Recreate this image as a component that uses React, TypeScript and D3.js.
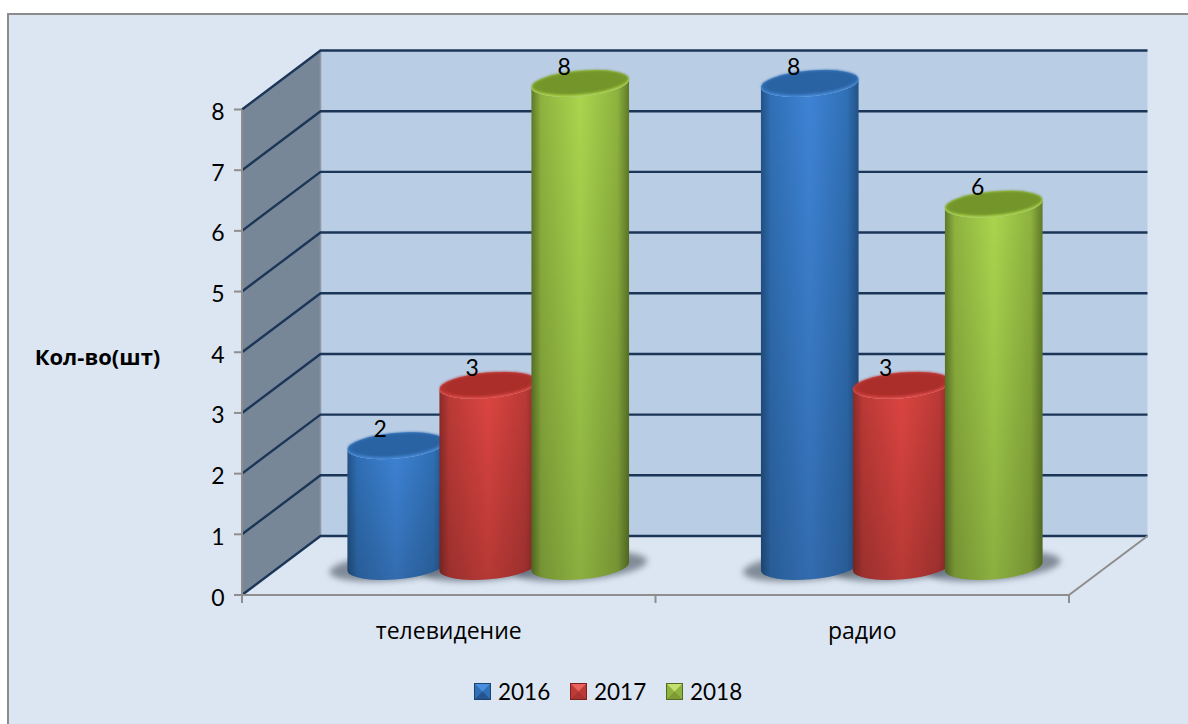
import React from "react";
import * as d3 from "d3";

// Chart values
const categories = ["телевидение", "радио"];
const years = ["2016", "2017", "2018"];
const values2016 = [2, 8];
const values2017 = [3, 3];
const values2018 = [8, 6];
const seriesValues = [values2016, values2017, values2018];
const yTicks = [0, 1, 2, 3, 4, 5, 6, 7, 8];

const palettes = [
  { id: "b", edge: "#235287", mid: "#3070b6", bright: "#3e84d6", cap: "#2a63a3", capEdge: "#2f6eb4", rim: "#4689d6", hi: "#4a8fdf", lo: "#24548c", dark: "#1d4372" },
  { id: "r", edge: "#8a2b29", mid: "#bc3a37", bright: "#de4541", cap: "#ab2f2c", capEdge: "#bb3633", rim: "#e04a46", hi: "#e8615d", lo: "#a83431", dark: "#7c2120" },
  { id: "g", edge: "#5f7a28", mid: "#8fb33f", bright: "#aad64e", cap: "#739529", capEdge: "#7fa232", rim: "#add54d", hi: "#c4e070", lo: "#7d9a34", dark: "#556b24" },
];

const WIDTH = 1188;
const HEIGHT = 724;
const DIGITS = "Lato, 'Open Sans', sans-serif";
const WORDS = "'Open Sans', sans-serif";
const GRID = "#1c3658";
const AXIS = "#8e8e8e";
const RX = 49;
const RY = 12.8;
const TILT = -5;

// Wall, floor and axis geometry of the 3-D box
const frontX = d3.scaleLinear().domain([0, 1]).range([242, 1069]);
const depth = { dx: 78.5, dy: -59 };
const yFront = d3.scaleLinear().domain([0, 8]).range([595, 109.5]);
const yBar = d3.scaleLinear().domain([0, 8]).range([566.5, 83.5]);
const groupX = d3.scaleBand<string>().domain(categories).range([281.5, 1108.5]);
const seriesX = d3.scalePoint<string>().domain(years).range([-92, 92]);
const labelX = d3.scaleBand<string>().domain(categories).range([242, 1069]);

const tiltRad = (TILT * Math.PI) / 180;
const endX = RX * Math.cos(tiltRad);
const endY = RX * Math.sin(tiltRad);

const barCenter = (c: string, y: string) =>
  (groupX(c) as number) + groupX.bandwidth() / 2 + (seriesX(y) as number);

function bodyPath(cx: number, top: number, bottom: number) {
  const p = d3.path();
  p.moveTo(cx - endX, top - endY);
  p.lineTo(cx - endX, bottom - endY);
  return (
    p.toString() +
    `A${RX} ${RY} ${TILT} 0 0 ${cx + endX} ${bottom + endY}` +
    `L${cx + endX} ${top + endY}` +
    `A${RX} ${RY} ${TILT} 0 1 ${cx - endX} ${top - endY}Z`
  );
}

function Cylinder({ cx, value, s }: { cx: number; value: number; s: number }) {
  const pal = palettes[s];
  const top = yBar(value);
  const bottom = yBar(0);
  return (
    <g>
      <path d={bodyPath(cx, top, bottom)} fill={`url(#body-${pal.id})`} />
      <path d={bodyPath(cx, top, bottom)} fill="url(#fade)" />
      <ellipse cx={cx} cy={top} rx={RX} ry={RY} fill={pal.rim} transform={`rotate(${TILT} ${cx} ${top})`} />
      <ellipse
        cx={cx}
        cy={top - 1}
        rx={RX - 0.5}
        ry={RY - 1}
        fill={`url(#cap-${pal.id})`}
        transform={`rotate(${TILT} ${cx} ${top - 1})`}
        filter="url(#soft)"
      />
    </g>
  );
}

function LegendKey({ x, y, s }: { x: number; y: number; s: number }) {
  const pal = palettes[s];
  const size = 17;
  const c = size / 2;
  return (
    <g transform={`translate(${x},${y})`}>
      <rect width={size} height={size} fill={pal.mid} />
      <polygon points={`0,0 ${size},0 ${c},${c}`} fill={pal.hi} />
      <polygon points={`0,${size} ${c},${c} ${size},${size}`} fill={pal.lo} />
      <rect x={0.5} y={0.5} width={size - 1} height={size - 1} fill="none" stroke={pal.dark} strokeWidth={1} />
    </g>
  );
}

export default function App() {
  const x0 = frontX(0);
  const x1 = frontX(1);
  const legendKeys = [474, 570, 666];
  return (
    <svg
      width={WIDTH}
      height={HEIGHT}
      viewBox={`0 0 ${WIDTH} ${HEIGHT}`}
      style={{ position: "fixed", left: 0, top: 0, background: "#fff" }}
      fontFamily={DIGITS}
    >
      <defs>
        {palettes.map((p) => (
          <React.Fragment key={p.id}>
            <linearGradient id={`body-${p.id}`} x1="0" x2="1" y1="0" y2="0">
              <stop offset="0" stopColor={p.edge} />
              <stop offset="0.1" stopColor={p.mid} />
              <stop offset="0.5" stopColor={p.bright} />
              <stop offset="0.88" stopColor={p.mid} />
              <stop offset="1" stopColor={p.edge} />
            </linearGradient>
            <radialGradient id={`cap-${p.id}`} cx="0.5" cy="0.5" r="0.6">
              <stop offset="0" stopColor={p.cap} />
              <stop offset="0.7" stopColor={p.cap} />
              <stop offset="1" stopColor={p.capEdge} />
            </radialGradient>
          </React.Fragment>
        ))}
        <linearGradient id="fade" x1="0" x2="0" y1="0" y2="1">
          <stop offset="0" stopColor="#000" stopOpacity="0" />
          <stop offset="1" stopColor="#000" stopOpacity="0.18" />
        </linearGradient>
        <filter id="soft" x="-10%" y="-30%" width="120%" height="160%">
          <feGaussianBlur stdDeviation="1" />
        </filter>
        <filter id="shadow" x="-20%" y="-60%" width="140%" height="220%">
          <feGaussianBlur stdDeviation="3" />
        </filter>
      </defs>

      {/* Chart area */}
      <rect x={8} y={14} width={WIDTH} height={HEIGHT} fill="#dce6f2" stroke="#8c8c8c" strokeWidth={2} />

      {/* Back wall and side wall */}
      <rect x={x0 + depth.dx} y={yFront(8) + depth.dy} width={x1 - x0} height={yFront(0) - yFront(8)} fill="#b9cde5" />
      <polygon
        points={[
          [x0, yFront(8)],
          [x0 + depth.dx, yFront(8) + depth.dy],
          [x0 + depth.dx, yFront(0) + depth.dy],
          [x0, yFront(0)],
        ].join(" ")}
        fill="#788798"
      />
      <line x1={x0 + depth.dx} x2={x0 + depth.dx} y1={yFront(8) + depth.dy} y2={yFront(0) + depth.dy} stroke="#8f99a6" strokeWidth={1.5} />

      {/* Gridlines across both walls */}
      {yTicks.map((t) => (
        <path
          key={t}
          d={`M${x0} ${yFront(t)}L${x0 + depth.dx} ${yFront(t) + depth.dy}L${x1 + depth.dx} ${yFront(t) + depth.dy}`}
          fill="none"
          stroke={GRID}
          strokeWidth={2.4}
        />
      ))}

      {/* Axis lines and ticks */}
      <path d={`M${x0} ${yFront(8)}V${yFront(0)}H${x1}L${x1 + depth.dx} ${yFront(0) + depth.dy}`} fill="none" stroke={AXIS} strokeWidth={2} />
      {yTicks.map((t) => (
        <line key={t} x1={x0 - 8} x2={x0} y1={yFront(t)} y2={yFront(t)} stroke={AXIS} strokeWidth={2} />
      ))}
      {[0, 0.5, 1].map((t) => (
        <line key={t} x1={frontX(t)} x2={frontX(t)} y1={yFront(0)} y2={yFront(0) + 8} stroke={AXIS} strokeWidth={2} />
      ))}

      {/* Value axis labels */}
      {yTicks.map((t) => (
        <text key={t} x={218} y={yFront(t) + 1.5} textAnchor="middle" dominantBaseline="central" fontSize={23} fill="#000">
          {t}
        </text>
      ))}
      <text x={97.5} y={356} textAnchor="middle" dominantBaseline="central" fontFamily={WORDS} fontSize={22} fontWeight={700} fill="#000">
        Кол-во(шт)
      </text>

      {/* Contact shadows under the cylinders */}
      {categories.map((c) =>
        years.map((y) => {
          const cx = barCenter(c, y);
          return (
            <ellipse
              key={c + y}
              cx={cx}
              cy={yBar(0)}
              rx={RX + 18}
              ry={RY + 1}
              fill="#5a6572"
              opacity={0.7}
              filter="url(#shadow)"
              transform={`rotate(${TILT} ${cx} ${yBar(0)})`}
            />
          );
        })
      )}

      {/* Cylinders, drawn left to right so each overlaps the previous one */}
      {categories.map((c, i) =>
        years.map((y, s) => (
          <Cylinder key={c + y} cx={barCenter(c, y)} value={seriesValues[s][i]} s={s} />
        ))
      )}

      {/* Data labels */}
      {categories.map((c, i) =>
        years.map((y, s) => (
          <text
            key={c + y}
            x={barCenter(c, y) - 16}
            y={yBar(seriesValues[s][i]) - 18}
            textAnchor="middle"
            dominantBaseline="central"
            fontSize={23}
            fill="#000"
          >
            {seriesValues[s][i]}
          </text>
        ))
      )}

      {/* Category labels */}
      {categories.map((c) => (
        <text
          key={c}
          x={(labelX(c) as number) + labelX.bandwidth() / 2}
          y={630}
          textAnchor="middle"
          dominantBaseline="central"
          fontFamily={WORDS}
          fontSize={23}
          fill="#000"
        >
          {c}
        </text>
      ))}

      {/* Legend */}
      {years.map((y, s) => (
        <g key={y}>
          <LegendKey x={legendKeys[s]} y={683} s={s} />
          <text x={legendKeys[s] + 24} y={691.5} dominantBaseline="central" fontSize={22.5} fill="#000">
            {y}
          </text>
        </g>
      ))}
    </svg>
  );
}
